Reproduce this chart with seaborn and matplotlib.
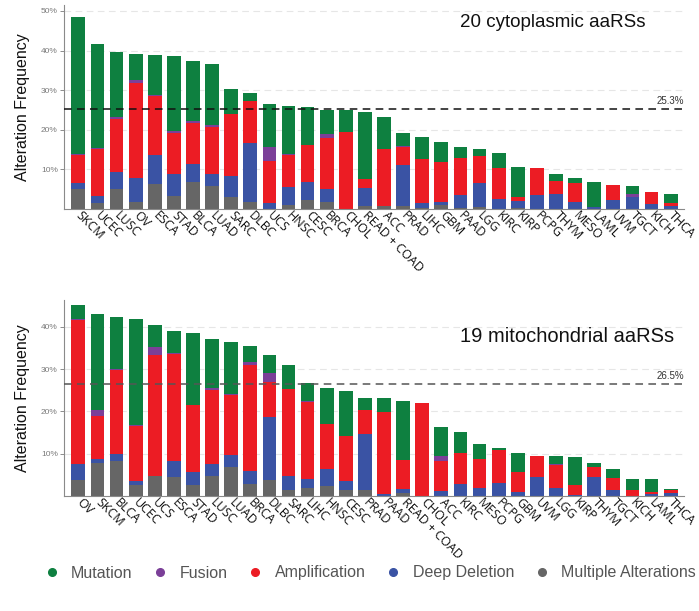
import numpy as np
import pandas as pd
import matplotlib
matplotlib.use("Agg")
import matplotlib.pyplot as plt
import matplotlib.transforms as mtransforms
from matplotlib.lines import Line2D
import seaborn as sns

# ---------------- data: 20 cytoplasmic aaRSs ----------------
cyto_cats = ["SKCM", "UCEC", "LUSC", "OV", "ESCA", "STAD", "BLCA", "LUAD", "SARC", "DLBC",
             "UCS", "HNSC", "CESC", "BRCA", "CHOL", "READ + COAD", "ACC", "PRAD", "LIHC", "GBM",
             "PAAD", "LGG", "KIRC", "KIRP", "PCPG", "THYM", "MESO", "LAML", "UVM", "TGCT",
             "KICH", "THCA"]
cyto_multiple = [5.0, 1.4, 5.0, 1.8, 6.3, 3.4, 6.8, 5.9, 3.1, 1.7,
                 0.0, 1.0, 2.3, 1.7, 0.0, 0.8, 0.8, 0.8, 0.2, 1.0,
                 0.2, 0.6, 0.0, 0.3, 0.0, 0.0, 0.0, 0.0, 0.0, 0.0,
                 0.0, 0.0]
cyto_deep = [1.6, 1.9, 4.3, 5.9, 7.3, 5.5, 4.6, 3.0, 5.3, 14.9,
             1.4, 4.5, 4.5, 3.3, 0.0, 4.6, 0.0, 10.3, 1.2, 0.85,
             3.3, 5.9, 2.45, 1.8, 3.5, 3.8, 1.85, 0.6, 2.3, 3.1,
             1.2, 0.75]
cyto_amp = [7.0, 11.8, 13.5, 24.2, 15.0, 10.4, 10.3, 11.8, 15.6, 10.7,
            10.6, 8.2, 9.3, 13.0, 19.4, 2.2, 14.4, 4.6, 11.3, 10.0,
            9.4, 6.9, 7.85, 0.9, 6.9, 3.3, 4.75, 0.0, 3.7, 0.0,
            3.1, 0.85]
cyto_fusion = [0.3, 0.3, 0.4, 0.6, 0.1, 0.4, 0.4, 0.4, 0.0, 0.0,
               3.7, 0.2, 0.1, 0.9, 0.0, 0.0, 0.0, 0.3, 0.0, 0.0,
               0.0, 0.0, 0.0, 0.0, 0.0, 0.0, 0.0, 0.0, 0.0, 0.8,
               0.0, 0.0]
cyto_mut = [34.5, 26.2, 16.4, 6.7, 10.2, 18.8, 15.2, 15.4, 6.2, 1.9,
            10.7, 12.2, 9.6, 6.2, 5.7, 17.0, 8.0, 3.3, 5.6, 5.0,
            2.8, 1.8, 3.8, 7.7, 0.0, 1.65, 1.15, 6.1, 0.0, 1.8,
            0.0, 2.3]
cyto_ref = 25.3

# ---------------- data: 19 mitochondrial aaRSs ----------------
mito_cats = ["OV", "SKCM", "BLCA", "UCEC", "UCS", "ESCA", "STAD", "LUSC", "LUAD", "BRCA",
             "DLBC", "SARC", "LIHC", "HNSC", "CESC", "PRAD", "PAAD", "READ + COAD", "CHOL", "ACC",
             "KIRC", "MESO", "PCPG", "GBM", "UVM", "LGG", "KIRP", "THYM", "TGCT", "KICH",
             "LAML", "THCA"]
mito_multiple = [3.8, 7.7, 8.3, 2.6, 4.8, 4.6, 2.5, 4.7, 6.85, 2.75,
                 3.8, 1.45, 1.8, 2.4, 1.3, 1.3, 0.0, 0.7, 0.0, 0.0,
                 0.0, 0.0, 0.0, 0.0, 0.0, 0.0, 0.0, 0.0, 0.0, 0.0,
                 0.0, 0.0]
mito_deep = [3.8, 1.05, 1.55, 0.9, 0.0, 3.7, 3.25, 2.9, 2.85, 3.15,
             14.8, 3.25, 2.1, 3.9, 2.25, 13.4, 0.5, 1.0, 0.0, 1.1,
             2.8, 2.0, 3.0, 0.95, 4.6, 2.0, 0.35, 4.4, 1.45, 0.0,
             0.5, 0.7]
mito_amp = [33.9, 10.25, 20.0, 13.0, 28.5, 25.3, 15.65, 17.4, 14.2, 25.1,
            8.4, 20.6, 18.4, 10.7, 10.7, 5.5, 19.4, 6.8, 22.0, 7.25,
            7.3, 6.75, 7.9, 4.8, 4.95, 5.25, 2.15, 2.4, 2.85, 1.45,
            0.45, 0.75]
mito_fusion = [0.3, 1.4, 0.1, 0.3, 1.8, 0.1, 0.0, 0.4, 0.3, 0.7,
               2.1, 0.0, 0.2, 0.0, 0.0, 0.2, 0.0, 0.0, 0.0, 1.1,
               0.0, 0.0, 0.0, 0.0, 0.0, 0.3, 0.0, 0.0, 0.0, 0.0,
               0.0, 0.0]
mito_mut = [3.4, 22.7, 12.3, 25.0, 5.2, 5.3, 17.2, 11.6, 12.1, 3.7,
            4.2, 5.6, 4.2, 8.6, 10.5, 2.85, 3.3, 13.9, 0.0, 6.75,
            5.0, 3.55, 0.5, 4.35, 0.0, 1.85, 6.65, 0.9, 2.0, 2.65,
            3.05, 0.3]
mito_ref = 26.5

layer_names = ["Multiple Alterations", "Deep Deletion", "Amplification", "Fusion", "Mutation"]
legend_order = ["Mutation", "Fusion", "Amplification", "Deep Deletion", "Multiple Alterations"]
colors = {"Mutation": "#0e8040", "Fusion": "#7b3f98", "Amplification": "#ec1c24",
          "Deep Deletion": "#3a53a4", "Multiple Alterations": "#666666"}

sns.set_theme(style="white")
plt.rcParams["font.family"] = ["Liberation Sans", "DejaVu Sans"]

W, H = 699, 611
fig = plt.figure(figsize=(W / 100, H / 100), dpi=100)
ax1 = fig.add_axes([64 / W, (H - 209) / H, 620 / W, 204 / H])
ax2 = fig.add_axes([64 / W, (H - 496) / H, 620 / W, 196 / H])


def draw_panel(ax, cats, layers, ymax, yticks, ref, ref_color, title, title_xy, title_size):
    df = pd.DataFrame(dict(zip(layer_names, layers)), index=cats)
    cum = df.cumsum(axis=1)
    for name in reversed(layer_names):
        sns.barplot(x=cats, y=cum[name].values, order=cats, color=colors[name],
                    saturation=1, width=0.72, ax=ax, edgecolor="none", linewidth=0)
    ax.set_xlim(-0.75, len(cats) - 0.3)
    ax.set_ylim(0, ymax)
    ax.set_yticks(yticks)
    ax.set_yticklabels([f"{t}%" for t in yticks])
    ax.tick_params(axis="y", labelsize=6, colors="#7a7a7a", length=3, width=0.6, pad=1.5,
                   left=True)
    ax.tick_params(axis="x", length=0, pad=3, labelsize=9, labelcolor="#111111")
    for lab in ax.get_xticklabels():
        lab.set_rotation(-45)
        lab.set_ha("left")
        lab.set_va("center")
        lab.set_rotation_mode("anchor")
        lab.set_family(["Open Sans", "DejaVu Sans"])
    ax.set_xlabel("")
    ax.set_ylabel("Alteration Frequency", fontsize=11.5, color="#111111")
    ax.yaxis.set_label_coords(-0.055, 0.5)
    for s in ["top", "right"]:
        ax.spines[s].set_visible(False)
    for s in ["left", "bottom"]:
        ax.spines[s].set_color("#8a8a8a")
        ax.spines[s].set_linewidth(0.8)
    ax.yaxis.grid(True, color="#e6e6e6", linestyle=(0, (6, 4)), linewidth=0.8)
    ax.xaxis.grid(False)
    ax.set_axisbelow(True)
    ax.axhline(ref, color=ref_color, linestyle=(0, (5, 3.5)), linewidth=1.1, zorder=5)
    trans = mtransforms.blended_transform_factory(ax.transAxes, ax.transData)
    ax.text(1.0, ref + 0.7, f"{ref}%", transform=trans, ha="right", va="bottom",
            fontsize=7, color="#333333")
    ax.text(title_xy[0], title_xy[1], title, transform=ax.transAxes, ha="left",
            va="center", fontsize=title_size, color="#111111")


draw_panel(ax1, cyto_cats, [cyto_multiple, cyto_deep, cyto_amp, cyto_fusion, cyto_mut],
           51.5, [10, 20, 30, 40, 50], cyto_ref, "#111111", "20 cytoplasmic aaRSs",
           (0.639, 0.912), 13.5)
draw_panel(ax2, mito_cats, [mito_multiple, mito_deep, mito_amp, mito_fusion, mito_mut],
           46.3, [10, 20, 30, 40], mito_ref, "#555555", "19 mitochondrial aaRSs",
           (0.639, 0.816), 14.5)

handles = [Line2D([0], [0], marker="o", linestyle="none", markersize=5.5,
                  markerfacecolor=colors[n], markeredgecolor=colors[n]) for n in legend_order]
leg = fig.legend(handles, legend_order, loc="center", bbox_to_anchor=(0.529, 1 - 573 / H),
                 ncol=5, frameon=False, fontsize=11.5, handlelength=1.0, handletextpad=0.7,
                 columnspacing=1.25)
for t in leg.get_texts():
    t.set_color("#555555")

fig.savefig("out.png", dpi=100)
